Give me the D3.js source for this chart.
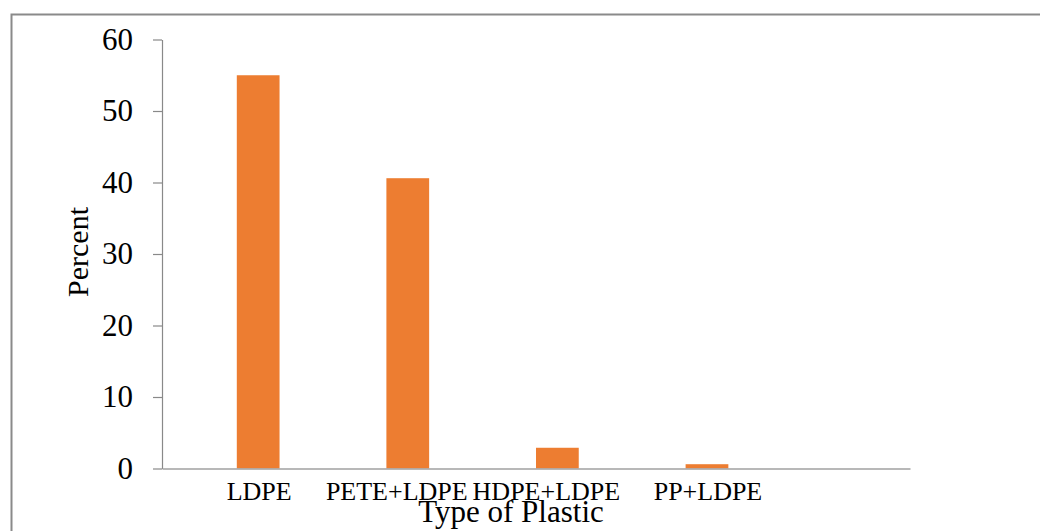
<!DOCTYPE html>
<html>
<head>
<meta charset="utf-8">
<script src="https://cdn.jsdelivr.net/npm/d3@7"></script>
<style>
  body { margin: 0; background: #fff; }
  svg { display: block; font-family: "Liberation Serif", "Times New Roman", serif; }
</style>
</head>
<body>
<div id="chart"></div>
<script>
// data
var categories = ["LDPE", "PETE+LDPE", "HDPE+LDPE", "PP+LDPE"];
var percent = [55, 40.6, 2.9, 0.6];
var yTicks = [0, 10, 20, 30, 40, 50, 60];

var W = 1040, H = 531;
var plotLeft = 162, plotRight = 910, plotTop = 39.5, plotBottom = 468.5;

var svg = d3.select("#chart").append("svg")
  .attr("width", W)
  .attr("height", H);

// outer frame
svg.append("rect")
  .attr("x", 11.5).attr("y", 14.5)
  .attr("width", 1100).attr("height", 600)
  .attr("fill", "none")
  .attr("stroke", "#8a8a8a")
  .attr("stroke-width", 2);

// 5 slots on the category axis, last one stays empty
var slots = categories.concat([""]);
var x0 = d3.scaleBand().domain(slots).range([plotLeft, plotRight]);
// two series slots per category (excel clustered, gap 150%), data sits in second
var x1 = d3.scaleBand().domain(["a", "b"]).range([0, x0.bandwidth()])
  .paddingInner(0).paddingOuter(0.75);

var y = d3.scaleLinear().domain([0, 60]).range([plotBottom, plotTop]);

// bars
svg.append("g").selectAll("rect")
  .data(categories)
  .enter()
  .append("rect")
    .attr("x", function(d){ return x0(d) + x1("b") })
    .attr("y", function(d, i){ return y(percent[i]) })
    .attr("width", x1.bandwidth())
    .attr("height", function(d, i){ return y(0) - y(percent[i]) })
    .attr("fill", "#ED7D31");

// y axis
var yAxis = d3.axisLeft(y)
  .tickValues(yTicks)
  .tickSize(9)
  .tickSizeOuter(0)
  .tickPadding(20);

var gy = svg.append("g")
  .attr("transform", "translate(" + plotLeft + ",0)")
  .call(yAxis);
gy.selectAll("path, line").attr("stroke", "#898989").attr("stroke-width", 1.2);
gy.selectAll("text")
  .attr("fill", "#000")
  .style("font-size", "31px")
  .style("font-family", "Liberation Serif");

// x axis line
var xAxis = d3.axisBottom(x0).tickSize(0).tickFormat("");
var gx = svg.append("g")
  .attr("transform", "translate(0," + plotBottom + ")")
  .call(xAxis);
gx.select("path").attr("stroke", "#a0a0a0").attr("stroke-width", 1.6);

// category labels under the bars (the two long ones sit a bit left, like the original)
svg.append("g").selectAll("text")
  .data(categories)
  .enter()
  .append("text")
    .attr("x", function(d){ return x0(d) + x1("b") + x1.bandwidth() / 2 })
    .attr("dx", function(d){ return d.length > 8 ? -11 : 1 })
    .attr("y", 500)
    .attr("text-anchor", "middle")
    .style("font-size", "26px")
    .text(function(d){ return d });

// axis titles
svg.append("text")
  .attr("x", 511)
  .attr("y", 522)
  .attr("text-anchor", "middle")
  .style("font-size", "31px")
  .text("Type of Plastic");

svg.append("text")
  .attr("transform", "translate(88,252) rotate(-90)")
  .attr("text-anchor", "middle")
  .style("font-size", "30px")
  .text("Percent");
</script>
</body>
</html>
